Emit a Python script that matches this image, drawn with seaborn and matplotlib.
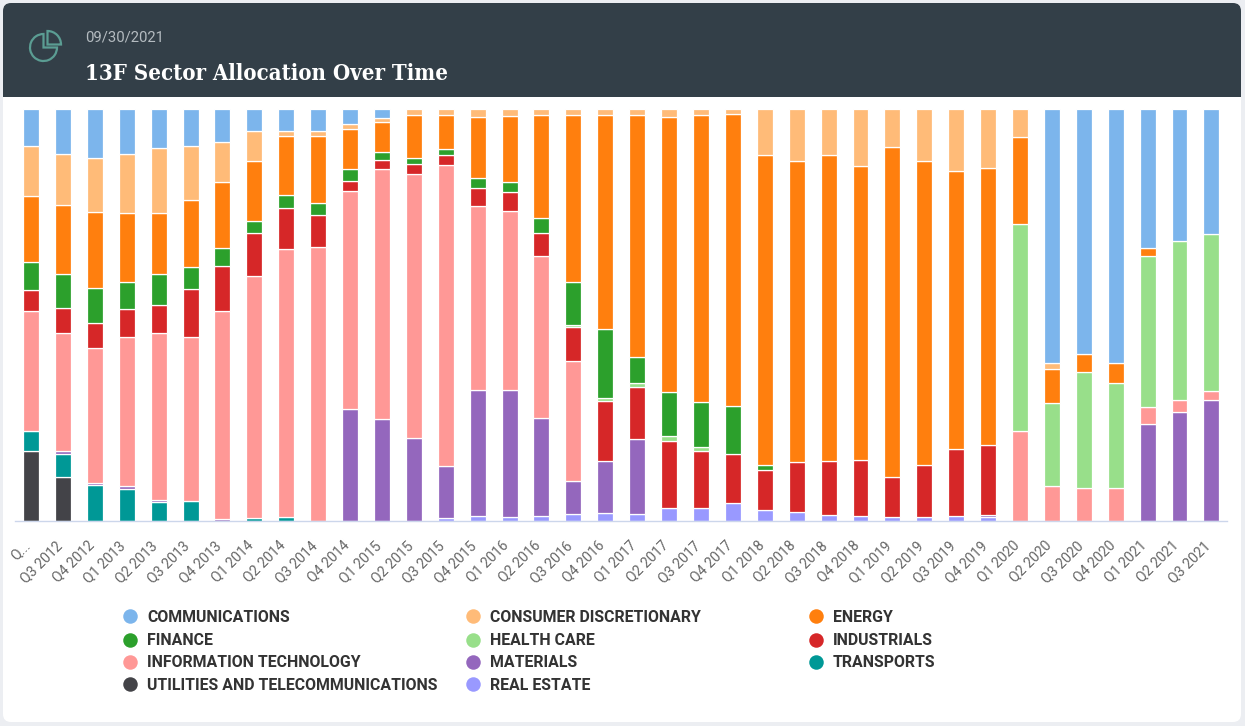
import matplotlib
matplotlib.use('Agg')
import matplotlib.pyplot as plt
from matplotlib.patches import FancyBboxPatch, Rectangle, Wedge
from matplotlib.transforms import ScaledTranslation
import pandas as pd
import seaborn as sns

quarters = ['Q2 2012', 'Q3 2012', 'Q4 2012', 'Q1 2013', 'Q2 2013', 'Q3 2013', 'Q4 2013', 'Q1 2014',
	'Q2 2014', 'Q3 2014', 'Q4 2014', 'Q1 2015', 'Q2 2015', 'Q3 2015', 'Q4 2015', 'Q1 2016',
	'Q2 2016', 'Q3 2016', 'Q4 2016', 'Q1 2017', 'Q2 2017', 'Q3 2017', 'Q4 2017', 'Q1 2018',
	'Q2 2018', 'Q3 2018', 'Q4 2018', 'Q1 2019', 'Q2 2019', 'Q3 2019', 'Q4 2019', 'Q1 2020',
	'Q2 2020', 'Q3 2020', 'Q4 2020', 'Q1 2021', 'Q2 2021', 'Q3 2021']
tick_labels = ['Q...'] + quarters[1:]

# percent of the portfolio per quarter
communications = [8.9, 11.0, 11.9, 11.0, 9.5, 8.9, 8.1, 5.3, 5.3, 5.3, 3.7, 2.2, 0, 0, 0, 0, 0, 0, 0,
	0, 0, 0, 0, 0, 0, 0, 0, 0, 0, 0, 0, 0, 61.5, 59.4, 61.6, 33.8, 32.0, 30.3]
consumer = [12.2, 12.2, 13.2, 14.3, 15.8, 13.1, 9.7, 7.3, 1.3, 1.3, 1.07, 1.05, 1.4, 1.4, 2.0, 1.8, 1.5,
	1.4, 1.4, 1.4, 2.0, 1.45, 1.15, 11.2, 12.6, 11.2, 13.8, 9.3, 12.6, 15.0, 14.2, 6.9, 1.55, 0, 0, 0, 0, 0]
energy = [16.1, 16.9, 18.35, 16.75, 14.6, 16.4, 16.0, 14.6, 14.2, 16.1, 9.85, 7.3, 10.6, 8.4, 14.8, 16.0, 25.0,
	40.7, 52.1, 58.9, 66.7, 69.7, 70.9, 75.2, 73.1, 74.3, 71.4, 80.1, 73.8, 67.4, 67.3, 21.0, 8.2, 4.5, 4.8, 1.9, 0, 0]
finance = [6.65, 8.25, 8.5, 6.55, 7.5, 5.2, 4.2, 2.9, 3.15, 3.0, 2.84, 1.8, 1.45, 1.3, 2.4, 2.4, 3.5,
	10.4, 16.6, 6.3, 10.6, 10.9, 11.6, 1.2, 0, 0, 0, 0, 0, 0, 0, 0, 0, 0, 0, 0, 0, 0]
health_care = [0, 0, 0, 0, 0, 0, 0, 0, 0, 0, 0, 0, 0, 0, 0, 0, 0,
	0.56, 0.8, 1.0, 1.2, 0.9, 0, 0, 0, 0, 0, 0, 0, 0, 0, 50.2, 20.1, 28.0, 25.6, 36.7, 38.6, 38.2]
industrials = [5.1, 6.0, 6.07, 6.8, 6.8, 11.7, 10.9, 10.4, 10.0, 7.9, 2.35, 2.1, 2.4, 2.4, 4.3, 4.5, 5.6,
	8.1, 14.6, 12.5, 16.3, 13.9, 11.9, 9.7, 12.1, 13.1, 13.6, 9.7, 12.7, 16.3, 17.0, 0, 0, 0, 0, 0, 0, 0]
info_tech = [29.1, 28.6, 32.6, 36.1, 40.5, 39.9, 50.5, 58.8, 65.0, 66.4, 52.9, 60.8, 63.9, 73.1, 44.7, 43.5, 39.3,
	29.2, 0, 0, 0, 0, 0, 0, 0, 0, 0, 0, 0, 0, 0, 21.9, 8.6, 8.1, 8.0, 4.0, 3.0, 2.2]
materials = [0, 0.65, 0.56, 0.65, 0.6, 0, 0.56, 0, 0, 0, 27.3, 24.8, 20.2, 12.7, 30.6, 30.8, 23.9,
	8.1, 12.7, 18.2, 0, 0, 0, 0, 0, 0, 0, 0, 0, 0, 0.55, 0, 0, 0, 0, 23.6, 26.4, 29.4]
real_estate = [0, 0, 0, 0, 0, 0, 0, 0, 0, 0, 0, 0, 0, 0.65, 1.2, 1.0, 1.2,
	1.6, 1.9, 1.8, 3.1, 3.1, 4.45, 2.7, 2.1, 1.45, 1.2, 0.9, 0.9, 1.2, 0.9, 0, 0, 0, 0, 0, 0, 0]
transports = [4.85, 5.65, 8.74, 7.84, 4.5, 4.8, 0, 0.65, 1.05, 0, 0, 0, 0, 0, 0, 0, 0,
	0, 0, 0, 0, 0, 0, 0, 0, 0, 0, 0, 0, 0, 0, 0, 0, 0, 0, 0, 0, 0]
utilities = [17.1, 10.7, 0, 0, 0, 0, 0, 0, 0, 0, 0, 0, 0, 0, 0, 0, 0,
	0, 0, 0, 0, 0, 0, 0, 0, 0, 0, 0, 0, 0, 0, 0, 0, 0, 0, 0, 0, 0]

# top of the stack first
sector_names = ['COMMUNICATIONS', 'CONSUMER DISCRETIONARY', 'ENERGY', 'FINANCE', 'HEALTH CARE', 'INDUSTRIALS',
	'INFORMATION TECHNOLOGY', 'MATERIALS', 'REAL ESTATE', 'TRANSPORTS', 'UTILITIES AND TELECOMMUNICATIONS']
sector_values = [communications, consumer, energy, finance, health_care, industrials,
	info_tech, materials, real_estate, transports, utilities]
sector_colors = ['#7cb5ec', '#ffbb78', '#ff7f0e', '#2ca02c', '#98df8a', '#d62728',
	'#ff9896', '#9467bd', '#9999ff', '#009896', '#434348']

legend_columns = [
	['COMMUNICATIONS', 'FINANCE', 'INFORMATION TECHNOLOGY', 'UTILITIES AND TELECOMMUNICATIONS'],
	['CONSUMER DISCRETIONARY', 'HEALTH CARE', 'MATERIALS', 'REAL ESTATE'],
	['ENERGY', 'INDUSTRIALS', 'TRANSPORTS'],
]

W, H = 1245, 726

df = pd.DataFrame(dict(zip(sector_names, sector_values)))
df['quarter'] = quarters
long_df = df.melt(id_vars='quarter', var_name='sector', value_name='share')

sns.set_theme(style='white')
plt.rcParams['font.family'] = ['Roboto', 'DejaVu Sans']

fig = plt.figure(figsize=(W / 100, H / 100), dpi=100, facecolor='#eceef2')

# page furniture, in pixel coordinates
bg = fig.add_axes([0, 0, 1, 1])
bg.set_xlim(0, W)
bg.set_ylim(H, 0)
bg.axis('off')
bg.add_patch(FancyBboxPatch((3, 3), 1238, 719, boxstyle='round,pad=0,rounding_size=8', fc='white', ec='none'))
bg.add_patch(FancyBboxPatch((3, 3), 1238, 60, boxstyle='round,pad=0,rounding_size=8', fc='#333f48', ec='none'))
bg.add_patch(Rectangle((3, 40), 1238, 57, fc='#333f48', ec='none'))

icon_color = '#5b9d93'
bg.add_patch(Wedge((43.5, 47.5), 13.5, 0, 270, fc='none', ec=icon_color, lw=1.6))
bg.add_patch(Wedge((47.5, 44.5), 13.5, 270, 360, fc='none', ec=icon_color, lw=1.6))
bg.text(85, 38, '09/30/2021', color='#b4bbc0', fontsize=10.7, va='center')
bg.text(85, 73.5, '13F Sector Allocation Over Time', color='white', fontsize=15.9, fontweight='bold',
	family='DejaVu Serif', fontstretch='condensed', va='center')

color_of = dict(zip(sector_names, sector_colors))
legend_x = [130, 473, 815.5]
legend_y = [616.3, 639.5, 661.7, 684.3]
for col, names in enumerate(legend_columns):
	for row, name in enumerate(names):
		bg.scatter(legend_x[col], legend_y[row], s=109, color=color_of[name], linewidths=0)
		bg.text(legend_x[col] + 17, legend_y[row] + 1, name, color='#333333', fontsize=11.4, fontweight='bold',
			va='center')

# stacked bars
ax = fig.add_axes([15.1 / W, 1 - 521 / H, (1228 - 15.75) / W, 412 / H])
ax.patch.set_alpha(0)
sns.histplot(data=long_df, x='quarter', hue='sector', weights='share', hue_order=sector_names,
	palette=sector_colors, multiple='fill', discrete=True, shrink=0.5, alpha=1,
	edgecolor='white', linewidth=0.9, legend=False, ax=ax)
for bar in ax.patches:
	if bar.get_height() == 0:
		bar.set_visible(False)

ax.set_xlim(-0.5, len(quarters) - 0.5)
ax.set_ylim(0, 1)
ax.set_xlabel('')
ax.set_ylabel('')
ax.set_yticks([])
ax.set_xticks(range(len(quarters)))
ax.set_xticklabels(tick_labels, rotation=45, ha='right', va='top', rotation_mode='anchor',
	color='#666666', fontsize=10.2)
ax.tick_params(axis='x', length=0, pad=12.5)
shift = ScaledTranslation(-8 / 100, 0, fig.dpi_scale_trans)
for label in ax.get_xticklabels():
	label.set_transform(label.get_transform() + shift)
sns.despine(ax=ax, left=True)
ax.spines['bottom'].set_color('#ccd6eb')
ax.spines['bottom'].set_linewidth(1)

fig.savefig('out.png', dpi=100, facecolor=fig.get_facecolor())
